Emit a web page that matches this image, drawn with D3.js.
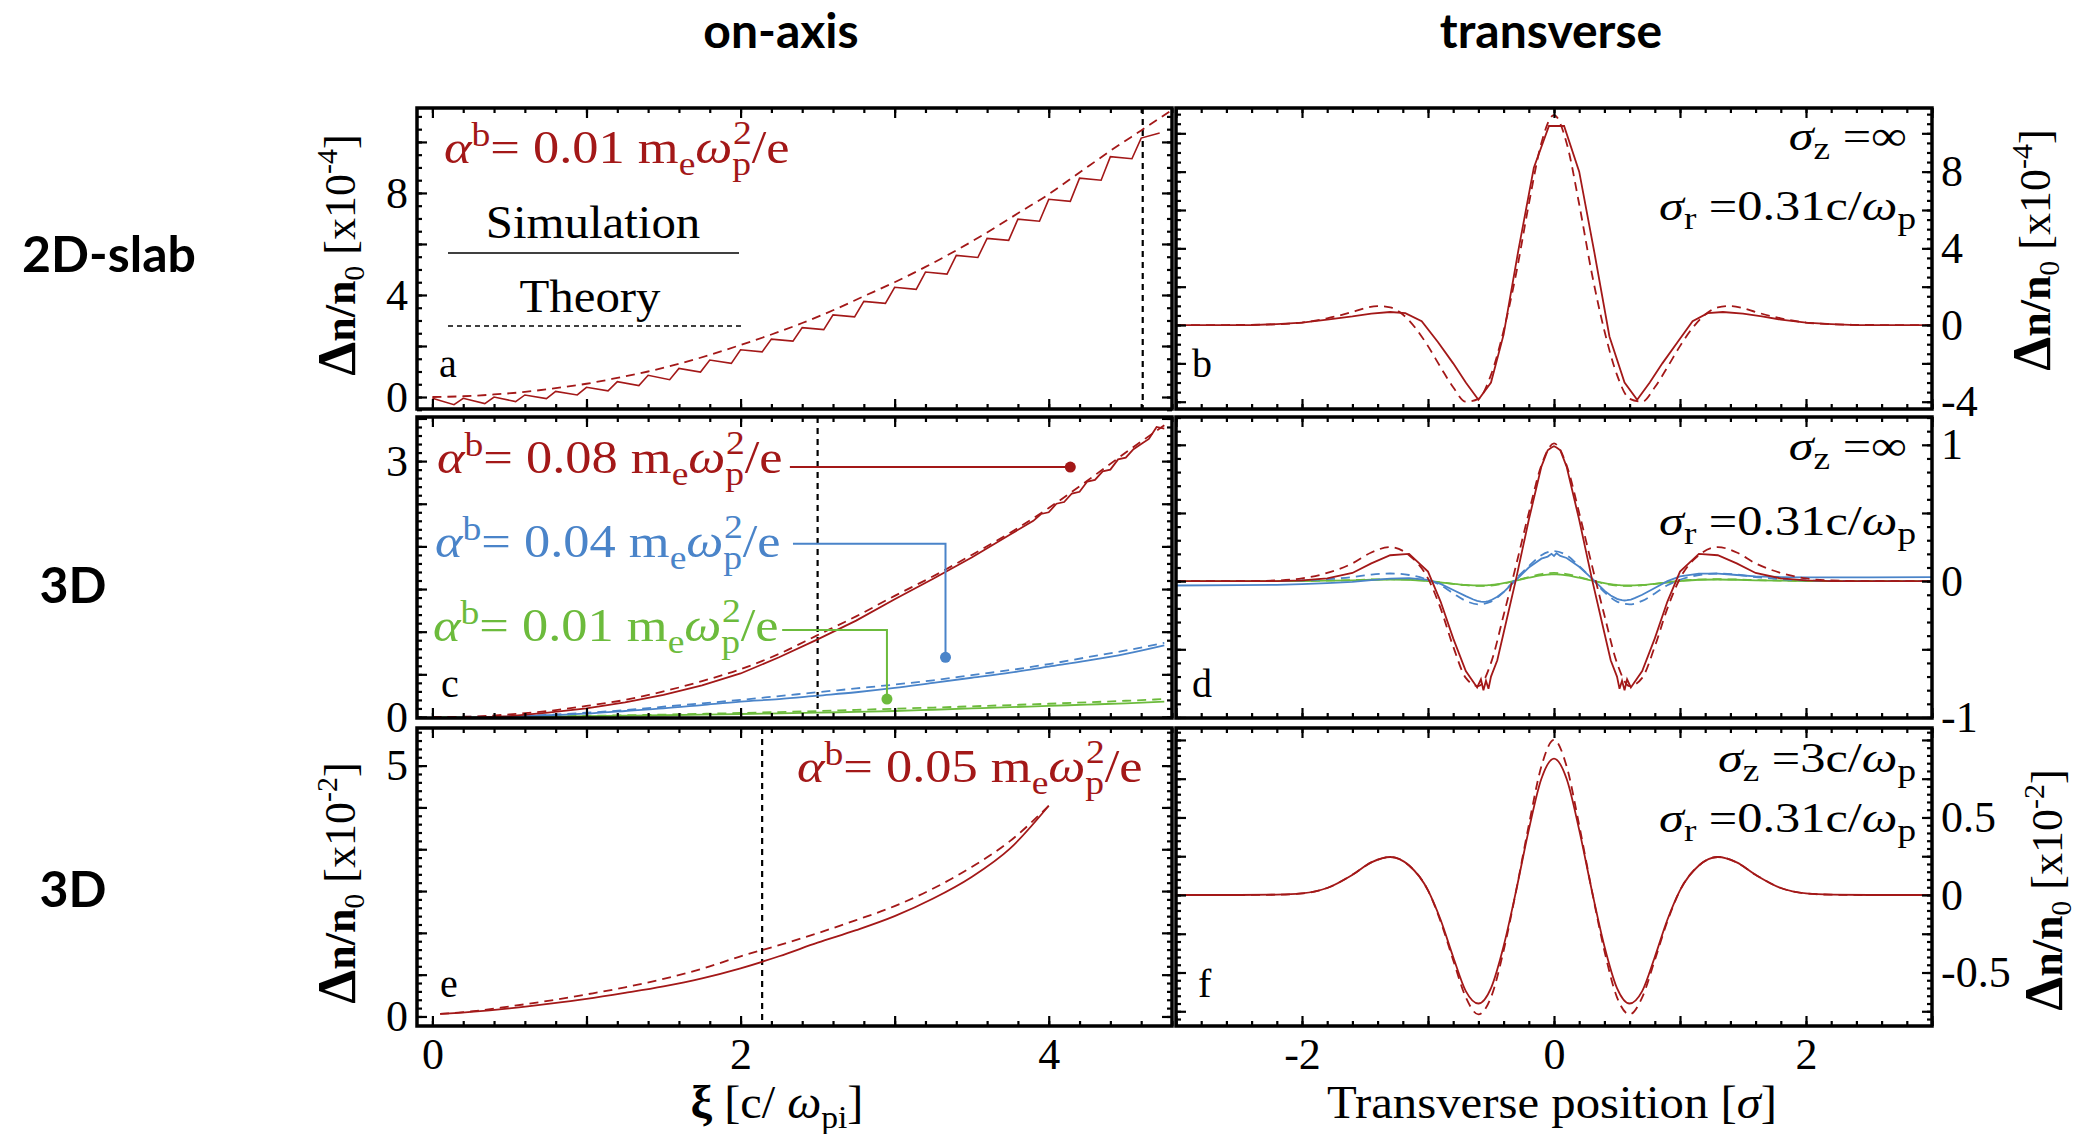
<!DOCTYPE html>
<html>
<head>
<meta charset="utf-8">
<script src="https://cdn.jsdelivr.net/npm/d3@7"></script>
<style>
  body { margin: 0; background: #fff; }
  .head { font-family: Lato, "Open Sans", sans-serif; font-weight: 700; }
</style>
</head>
<body>
<script>
// ---------- data ----------

// a : 2D slab, on-axis (simulation shows a small staircase)
var xiSimA = [0,0.14,0.2,0.34,0.4,0.54,0.6,0.74,0.8,0.94,1.0,1.14,1.2,1.34,1.4,1.54,1.6,1.74,1.8,1.94,2.0,2.14,2.2,2.34,2.4,
              2.54,2.6,2.74,2.8,2.94,3.0,3.14,3.2,3.34,3.4,3.54,3.6,3.74,3.8,3.94,4.0,4.14,4.2,4.34,4.4,4.54,4.6,4.72];
var simA = [-0.05,-0.3,-0.05,-0.26,0.0,-0.18,0.08,-0.06,0.22,0.08,0.38,0.24,0.6,0.45,0.85,0.68,1.12,0.98,1.45,1.32,
            1.85,1.77,2.27,2.19,2.72,2.64,3.22,3.14,3.75,3.67,4.3,4.22,4.9,4.82,5.55,5.47,6.22,6.14,6.97,6.89,
            7.75,7.67,8.58,8.5,9.42,9.34,10.15,10.35];
var xiTheoryA = [0,0.2,0.4,0.6,0.8,1.0,1.2,1.4,1.6,1.8,2.0,2.2,2.4,2.6,2.8,3.0,3.2,3.4,3.6,3.8,4.0,4.2,4.4,4.6,4.8];
var theoryA = [0,0.03,0.1,0.2,0.35,0.52,0.75,1.0,1.3,1.65,2.04,2.45,2.9,3.4,3.95,4.5,5.1,5.75,6.45,7.2,
               7.95,8.8,9.65,10.45,11.25];
var markerA = 4.61;

// b : 2D slab, transverse
var posSimB = [-3,-2.4,-2.2,-2.0,-1.8,-1.6,-1.45,-1.3,-1.18,-1.05,-0.92,-0.8,-0.7,-0.6,-0.5,-0.4,-0.28,-0.16,-0.04,
               0.08,0.2,0.32,0.44,0.56,0.66,0.76,0.86,0.98,1.1,1.22,1.34,1.5,1.65,1.8,2.0,2.2,2.4,3];
var simB = [0,0,0.05,0.12,0.28,0.45,0.6,0.68,0.62,0.2,-0.9,-2.0,-3.0,-3.9,-3.0,-0.5,4.0,8.2,10.38,
            10.38,8.0,3.8,-0.6,-3.0,-3.9,-3.0,-2.0,-0.9,0.2,0.62,0.68,0.6,0.45,0.28,0.12,0.05,0,0];
var posB = [-3,-2.6,-2.4,-2.2,-2.0,-1.8,-1.6,-1.5,-1.4,-1.3,-1.2,-1.1,-1.0,-0.9,-0.8,-0.7,-0.6,-0.5,-0.4,-0.3,-0.2,-0.1,
            0,0.1,0.2,0.3,0.4,0.5,0.6,0.7,0.8,0.9,1.0,1.1,1.2,1.3,1.4,1.5,1.6,1.8,2.0,2.2,2.4,2.6,3];
var theoryB = [0,0,0.01,0.04,0.13,0.35,0.68,0.88,0.99,0.92,0.55,-0.15,-1.1,-2.2,-3.25,-4.0,-3.85,-2.6,-0.3,2.7,6.3,9.5,
               10.95,
               9.5,6.3,2.7,-0.3,-2.6,-3.85,-4.0,-3.25,-2.2,-1.1,-0.15,0.55,0.92,0.99,0.88,0.68,0.35,0.13,0.04,0.01,0,0];

// c : 3D, on-axis, three beam strengths
var xiRedSimC = [0,0.25,0.5,0.75,1.0,1.25,1.5,1.75,2.0,2.25,2.5,2.75,3.0,3.25,3.5,3.75,
                 3.9,3.95,4.0,4.05,4.1,4.15,4.2,4.25,4.3,4.35,4.4,4.45,4.5,4.55,4.6,4.65,4.7,4.75];
var redSimC = [-0.02,-0.01,0.01,0.05,0.1,0.17,0.26,0.37,0.51,0.7,0.91,1.13,1.38,1.62,1.87,2.14,
               2.3,2.38,2.4,2.5,2.52,2.62,2.64,2.76,2.78,2.88,2.9,3.02,3.04,3.14,3.2,3.26,3.4,3.38];
var xiC = [0,0.25,0.5,0.75,1.0,1.25,1.5,1.75,2.0,2.25,2.5,2.75,3.0,3.25,3.5,3.75,4.0,4.25,4.5,4.75];
var redTheoryC = [0,0.005,0.03,0.07,0.13,0.2,0.3,0.42,0.56,0.74,0.96,1.18,1.42,1.65,1.9,2.16,2.45,2.77,3.1,3.42];
var blueSimC = [-0.01,-0.005,0.005,0.02,0.04,0.07,0.1,0.14,0.18,0.21,0.25,0.29,0.34,0.4,0.46,0.52,0.59,0.66,0.74,0.84];
var blueTheoryC = [0,0.003,0.01,0.025,0.05,0.08,0.12,0.16,0.2,0.245,0.29,0.335,0.38,0.43,0.49,0.55,0.62,0.7,0.78,0.87];
var greenSimC = [-0.005,-0.003,0,0.005,0.01,0.015,0.02,0.027,0.035,0.042,0.05,0.06,0.07,0.085,0.1,0.115,0.13,0.145,0.16,0.18];
var greenTheoryC = [0,0.001,0.003,0.008,0.014,0.02,0.028,0.037,0.047,0.058,0.07,0.083,0.097,0.11,0.125,0.14,0.155,0.172,0.19,0.21];
var markerC = 2.5;
var alphaC = ["0.08", "0.04", "0.01"];
var leaderYC = [2.93, 2.03, 1.02];
var leaderX0C = [2.32, 2.34, 2.27];
var leaderX1C = [4.14, 3.33, 2.95];
var dotYC = [2.93, 0.70, 0.21];

// d : 3D, transverse
var posSimD = [-3,-2.5,-2.2,-2.0,-1.8,-1.6,-1.45,-1.3,-1.15,-1.0,-0.9,-0.8,-0.7,-0.64,-0.61,-0.58,-0.56,-0.54,-0.52,-0.5,
               -0.45,-0.4,-0.3,-0.2,-0.1,-0.05,-0.02,0,0.02,0.05,0.1,0.2,0.3,0.4,0.45,0.5,0.52,0.54,0.56,0.58,0.61,0.64,
               0.7,0.8,0.9,1.0,1.15,1.3,1.45,1.6,1.8,2.0,2.2,2.5,3];
var redSimD = [0,0,0,0.005,0.02,0.06,0.13,0.19,0.2,0.07,-0.15,-0.42,-0.66,-0.74,-0.78,-0.72,-0.8,-0.73,-0.79,-0.7,
               -0.58,-0.38,0.02,0.45,0.84,0.96,0.98,0.99,0.98,0.96,0.84,0.45,0.02,-0.38,-0.58,-0.7,-0.79,-0.73,-0.8,-0.72,
               -0.78,-0.74,-0.66,-0.42,-0.15,0.07,0.2,0.19,0.13,0.06,0.02,0.005,0,0,0];
var blueSimD = [-0.032,-0.03,-0.027,-0.022,-0.015,-0.005,0.008,0.018,0.022,0.01,-0.02,-0.065,-0.11,-0.135,-0.145,-0.15,
                -0.152,-0.15,-0.146,-0.14,-0.115,-0.08,0.01,0.1,0.165,0.18,0.2,0.185,0.205,0.185,0.17,0.105,0.02,-0.07,
                -0.105,-0.13,-0.135,-0.14,-0.142,-0.14,-0.135,-0.125,-0.1,-0.05,0.0,0.035,0.055,0.055,0.045,0.035,0.03,
                0.028,0.027,0.028,0.03];
var greenSimD = [0,0,0,0.001,0.003,0.006,0.01,0.012,0.01,0.0,-0.01,-0.02,-0.028,-0.031,-0.032,-0.032,-0.032,-0.031,-0.03,
                 -0.028,-0.022,-0.014,0.005,0.025,0.042,0.048,0.05,0.05,0.05,0.048,0.042,0.025,0.005,-0.014,-0.022,-0.028,
                 -0.03,-0.031,-0.032,-0.032,-0.032,-0.031,-0.028,-0.02,-0.01,0.0,0.01,0.012,0.01,0.006,0.003,0.001,0,0,0];
var posD = [-3,-2.5,-2.2,-2.0,-1.8,-1.6,-1.45,-1.3,-1.15,-1.0,-0.9,-0.8,-0.7,-0.6,-0.5,-0.4,-0.3,-0.2,-0.1,
            0,0.1,0.2,0.3,0.4,0.5,0.6,0.7,0.8,0.9,1.0,1.15,1.3,1.45,1.6,1.8,2.0,2.2,2.5,3];
var redTheoryD = [0,0,0.005,0.02,0.06,0.13,0.21,0.25,0.19,0.02,-0.2,-0.48,-0.71,-0.77,-0.6,-0.25,0.12,0.5,0.85,
                  1.01,
                  0.85,0.5,0.12,-0.25,-0.6,-0.77,-0.71,-0.48,-0.2,0.02,0.19,0.25,0.21,0.13,0.06,0.02,0.005,0,0];
var blueTheoryD = [0,0,0.002,0.005,0.015,0.03,0.048,0.056,0.045,0.01,-0.03,-0.09,-0.145,-0.17,-0.15,-0.08,0.02,0.11,0.19,
                   0.22,
                   0.19,0.11,0.02,-0.08,-0.15,-0.17,-0.145,-0.09,-0.03,0.01,0.045,0.056,0.048,0.03,0.015,0.005,0.002,0,0];
var greenTheoryD = [0,0,0,0.002,0.004,0.008,0.012,0.014,0.011,0.002,-0.008,-0.02,-0.03,-0.035,-0.032,-0.018,0.005,0.03,0.052,
                    0.06,
                    0.052,0.03,0.005,-0.018,-0.032,-0.035,-0.03,-0.02,-0.008,0.002,0.011,0.014,0.012,0.008,0.004,0.002,0,0,0];

// e : 3D finite bunch, on-axis
var xiE = [0.05,0.25,0.5,0.75,1.0,1.25,1.5,1.75,2.0,2.25,2.5,2.75,3.0,3.25,3.5,3.75,4.0];
var simE = [0.05,0.09,0.16,0.25,0.35,0.47,0.6,0.76,0.96,1.2,1.47,1.72,2.0,2.35,2.78,3.35,4.2];
var theoryE = [0.05,0.1,0.2,0.31,0.44,0.58,0.75,0.95,1.2,1.42,1.66,1.92,2.2,2.55,2.98,3.5,4.2];
var markerE = 2.14;

// f : 3D finite bunch, transverse
var posF = [-3,-2.5,-2.2,-2.0,-1.8,-1.6,-1.45,-1.3,-1.15,-1.0,-0.9,-0.8,-0.7,-0.6,-0.5,-0.4,-0.3,-0.2,-0.1,
            0,0.1,0.2,0.3,0.4,0.5,0.6,0.7,0.8,0.9,1.0,1.15,1.3,1.45,1.6,1.8,2.0,2.2,2.5,3];
var simF = [0,0,0.002,0.01,0.045,0.13,0.21,0.245,0.19,0.03,-0.16,-0.4,-0.62,-0.7,-0.6,-0.33,0.03,0.42,0.75,
            0.88,
            0.75,0.42,0.03,-0.33,-0.6,-0.7,-0.62,-0.4,-0.16,0.03,0.19,0.245,0.21,0.13,0.045,0.01,0.002,0,0];
var theoryF = [0,0,0.002,0.01,0.045,0.13,0.21,0.245,0.19,0.03,-0.17,-0.42,-0.66,-0.77,-0.66,-0.36,0.03,0.45,0.83,
               1.0,
               0.83,0.45,0.03,-0.36,-0.66,-0.77,-0.66,-0.42,-0.17,0.03,0.19,0.245,0.21,0.13,0.045,0.01,0.002,0,0];

// tick labels
var xLabelsOn = [0, 2, 4];
var xLabelsTr = [-2, 0, 2];
var yLabelsA = [0, 4, 8];
var yLabelsB = [-4, 0, 4, 8];
var yLabelsC = [0, 3];
var yLabelsD = [-1, 0, 1];
var yLabelsE = [0, 5];
var yLabelsF = [-0.5, 0, 0.5];

// ---------- drawing ----------
var RED = "#a31818", BLUE = "#4a84c9", GREEN = "#6cbb3c";
var SERIF = '"Liberation Serif", "DejaVu Serif", serif';

var svg = d3.select("body").append("svg")
    .attr("width", 2080).attr("height", 1134)
    .style("font-family", SERIF);

function makePanel(id, left, top, w, h, xd, yd) {
  var g = svg.append("g").attr("transform", "translate(" + left + "," + top + ")");
  var x = d3.scaleLinear().domain(xd).range([0, w]);
  var y = d3.scaleLinear().domain(yd).range([h, 0]);
  g.append("clipPath").attr("id", "clip" + id)
    .append("rect").attr("width", w).attr("height", h);
  var plot = g.append("g").attr("clip-path", "url(#clip" + id + ")");
  return {g: g, plot: plot, x: x, y: y, w: w, h: h};
}

function drawTicks(p, xMaj, xMin, yMaj, yMin) {
  var sides = [
    [d3.axisBottom(p.x), 0, p.h, xMaj, xMin],
    [d3.axisTop(p.x), 0, 0, xMaj, xMin],
    [d3.axisLeft(p.y), 0, 0, yMaj, yMin],
    [d3.axisRight(p.y), p.w, 0, yMaj, yMin]
  ];
  sides.forEach(function(s) {
    [[s[4], 5], [s[3], 10]].forEach(function(t) {
      var a = p.g.append("g")
        .attr("transform", "translate(" + s[1] + "," + s[2] + ")")
        .call(s[0].tickValues(t[0]).tickSize(-t[1]).tickFormat(""));
      a.select(".domain").remove();
      a.selectAll(".tick line").attr("stroke", "#000").attr("stroke-width", 2.2);
    });
  });
}

function drawLabels(p, side, vals, pad) {
  var ax, tr;
  if (side === "left") { ax = d3.axisLeft(p.y); tr = [0, 0]; }
  else if (side === "right") { ax = d3.axisRight(p.y); tr = [p.w, 0]; }
  else { ax = d3.axisBottom(p.x); tr = [0, p.h]; }
  var a = p.g.append("g").attr("transform", "translate(" + tr + ")")
    .call(ax.tickValues(vals).tickSize(0).tickPadding(pad).tickFormat(function(d) { return String(d); }));
  a.select(".domain").remove();
  a.selectAll("text").attr("font-size", 44).attr("font-family", SERIF).attr("fill", "#000");
}

function drawFrame(p) {
  p.g.append("rect").attr("width", p.w).attr("height", p.h)
    .attr("fill", "none").attr("stroke", "#000").attr("stroke-width", 3.5);
}

function drawCurve(p, xs, ys, color, dashed, smooth, width) {
  var line = d3.line()
    .x(function(d, i) { return p.x(xs[i]); })
    .y(function(d) { return p.y(d); })
    .curve(smooth ? d3.curveMonotoneX : d3.curveLinear);
  p.plot.append("path").datum(ys)
    .attr("d", line)
    .attr("fill", "none")
    .attr("stroke", color)
    .attr("stroke-width", width || 1.8)
    .attr("stroke-dasharray", dashed ? "9,6" : null);
}

function drawMarker(p, xv) {
  p.plot.append("line")
    .attr("x1", p.x(xv)).attr("x2", p.x(xv))
    .attr("y1", 0).attr("y2", p.h)
    .attr("stroke", "#000").attr("stroke-width", 2.2)
    .attr("stroke-dasharray", "6,5");
}

// text placed at (x, y), optionally stretched sideways so Times looks as wide as the original TeX font
function richText(parent, x, y, size, parts, anchor, color, sx, rot) {
  var tf = "translate(" + x + "," + y + ")";
  if (rot) tf += " rotate(" + rot + ")";
  if (sx) tf += " scale(" + sx + ",1)";
  var t = parent.append("text")
    .attr("transform", tf)
    .attr("font-size", size)
    .attr("fill", color || "#000")
    .attr("text-anchor", anchor || "start");
  parts.forEach(function(pt) {
    var s = t.append("tspan").text(pt.t);
    if (pt.dx) s.attr("dx", pt.dx);
    if (pt.dy) s.attr("dy", pt.dy);
    if (pt.fs) s.attr("font-size", pt.fs);
    if (pt.it) s.attr("font-style", "italic");
    if (pt.b) s.attr("font-weight", "bold");
  });
  return t;
}

function alphaParts(v) {
  return [
    {t: "α", it: true},
    {t: "b", fs: 33, dy: -17},
    {t: "= " + v + " m", dy: 17},
    {t: "e", fs: 33, dy: 12},
    {t: "ω", it: true, dy: -12},
    {t: "p", fs: 33, dy: 12},
    {t: "2", fs: 33, dx: -16, dy: -31},
    {t: "/e", dy: 19}
  ];
}

function sigmaZ(rhs, omega) {
  var parts = [{t: "σ", it: true}, {t: "z", fs: 31, dy: 9}, {t: " =" + rhs, dy: -9}];
  if (omega) parts.push({t: "ω", it: true}, {t: "p", fs: 31, dy: 9});
  return parts;
}

function sigmaR() {
  return [{t: "σ", it: true}, {t: "r", fs: 31, dy: 9}, {t: " =0.31c/", dy: -9},
          {t: "ω", it: true}, {t: "p", fs: 31, dy: 9}];
}

function densityTitle(exp) {
  return [
    {t: "Δ", b: true, fs: 54},
    {t: "n/n", b: true},
    {t: "0", fs: 30, dy: 9},
    {t: " [x10", dy: -9},
    {t: exp, fs: 30, dy: -18},
    {t: "]", dy: 18}
  ];
}

// layout
var colX = [417, 1176], colW = [755, 756];
var rowY = [108, 417, 728], rowH = [301, 301, 298];
var xOn = [-0.1, 4.8], xTr = [-3, 3];
var SX_ALPHA = 1.14, SX_SIGMA = 1.2;

var pa = makePanel("a", colX[0], rowY[0], colW[0], rowH[0], xOn, [-0.47, 11.33]);
var pb = makePanel("b", colX[1], rowY[0], colW[1], rowH[0], xTr, [-4.38, 11.32]);
var pc = makePanel("c", colX[0], rowY[1], colW[0], rowH[1], xOn, [-0.012, 3.517]);
var pd = makePanel("d", colX[1], rowY[1], colW[1], rowH[1], xTr, [-1.004, 1.204]);
var pe = makePanel("e", colX[0], rowY[2], colW[0], rowH[2], xOn, [-0.19, 5.75]);
var pf = makePanel("f", colX[1], rowY[2], colW[1], rowH[2], xTr, [-0.845, 1.077]);

var xMajOn = [0, 1, 2, 3, 4], xMinOn = d3.range(0, 4.81, 0.2);
var xMajTr = [-3, -2, -1, 0, 1, 2, 3], xMinTr = d3.range(-3, 3.01, 0.2);

// --- a ---
drawMarker(pa, markerA);
drawCurve(pa, xiTheoryA, theoryA, RED, true, true);
drawCurve(pa, xiSimA, simA, RED, false, false, 1.6);
drawTicks(pa, xMajOn, xMinOn, d3.range(0, 11, 2), d3.range(-0.5, 11.3, 0.5));
drawLabels(pa, "left", yLabelsA, 9);
richText(pa.g, 27, 55, 46, alphaParts("0.01"), "start", RED, SX_ALPHA);
richText(pa.g, 176, 130, 47, [{t: "Simulation"}], "middle", "#000", 1.04);
pa.g.append("line").attr("x1", 31).attr("x2", 322).attr("y1", 145).attr("y2", 145)
  .attr("stroke", "#000").attr("stroke-width", 1.6);
richText(pa.g, 173, 204, 47, [{t: "Theory"}], "middle", "#000", 1.04);
pa.g.append("line").attr("x1", 31).attr("x2", 325).attr("y1", 218).attr("y2", 218)
  .attr("stroke", "#000").attr("stroke-width", 1.6).attr("stroke-dasharray", "5,4");
richText(pa.g, 22, 269, 40, [{t: "a"}]);
drawFrame(pa);

// --- b ---
drawCurve(pb, posB, theoryB, RED, true, true);
drawCurve(pb, posSimB, simB, RED, false, false);
drawTicks(pb, xMajTr, xMinTr, d3.range(-4, 11, 2), d3.range(-4, 11.3, 0.5));
drawLabels(pb, "right", yLabelsB, 9);
richText(pb.g, 731, 42, 42, sigmaZ("∞", false), "end", "#000", SX_SIGMA);
richText(pb.g, 740, 112, 42, sigmaR(), "end", "#000", SX_SIGMA);
richText(pb.g, 16, 269, 40, [{t: "b"}]);
drawFrame(pb);

// --- c ---
drawMarker(pc, markerC);
drawCurve(pc, xiC, greenTheoryC, GREEN, true, true);
drawCurve(pc, xiC, greenSimC, GREEN, false, true);
drawCurve(pc, xiC, blueTheoryC, BLUE, true, true);
drawCurve(pc, xiC, blueSimC, BLUE, false, true);
drawCurve(pc, xiC, redTheoryC, RED, true, true);
drawCurve(pc, xiRedSimC, redSimC, RED, false, false);
var colorsC = [RED, BLUE, GREEN];
alphaC.forEach(function(v, i) {
  richText(pc.g, 20 - i * 2, 56 + i * 84, 46, alphaParts(v), "start", colorsC[i], SX_ALPHA);
  var pts = [[leaderX0C[i], leaderYC[i]], [leaderX1C[i], leaderYC[i]], [leaderX1C[i], dotYC[i]]];
  pc.plot.append("path")
    .datum(pts)
    .attr("d", d3.line().x(function(d) { return pc.x(d[0]); }).y(function(d) { return pc.y(d[1]); }))
    .attr("fill", "none").attr("stroke", colorsC[i]).attr("stroke-width", 2);
  pc.plot.append("circle")
    .attr("cx", pc.x(leaderX1C[i])).attr("cy", pc.y(dotYC[i])).attr("r", 5.5)
    .attr("fill", colorsC[i]);
});
drawTicks(pc, xMajOn, xMinOn, d3.range(0, 3.51, 0.5), d3.range(0, 3.51, 0.1));
drawLabels(pc, "left", yLabelsC, 9);
richText(pc.g, 24, 280, 40, [{t: "c"}]);
drawFrame(pc);

// --- d ---
drawCurve(pd, posD, greenTheoryD, GREEN, true, true);
drawCurve(pd, posSimD, greenSimD, GREEN, false, true);
drawCurve(pd, posD, blueTheoryD, BLUE, true, true);
drawCurve(pd, posSimD, blueSimD, BLUE, false, false);
drawCurve(pd, posD, redTheoryD, RED, true, true);
drawCurve(pd, posSimD, redSimD, RED, false, false);
drawTicks(pd, xMajTr, xMinTr, [-1, -0.5, 0, 0.5, 1], d3.range(-1, 1.21, 0.1));
drawLabels(pd, "right", yLabelsD, 9);
richText(pd.g, 731, 43, 42, sigmaZ("∞", false), "end", "#000", SX_SIGMA);
richText(pd.g, 740, 118, 42, sigmaR(), "end", "#000", SX_SIGMA);
richText(pd.g, 16, 280, 40, [{t: "d"}]);
drawFrame(pd);

// --- e ---
drawMarker(pe, markerE);
drawCurve(pe, xiE, theoryE, RED, true, true);
drawCurve(pe, xiE, simE, RED, false, true);
drawTicks(pe, xMajOn, xMinOn, d3.range(0, 5.75, 5 / 6), d3.range(0, 5.75, 1 / 6));
drawLabels(pe, "left", yLabelsE, 9);
drawLabels(pe, "bottom", xLabelsOn, 12);
richText(pe.g, 380, 54, 46, alphaParts("0.05"), "start", RED, SX_ALPHA);
richText(pe.g, 23, 269, 40, [{t: "e"}]);
drawFrame(pe);

// --- f ---
drawCurve(pf, posF, theoryF, RED, true, true);
drawCurve(pf, posF, simF, RED, false, true);
drawTicks(pf, xMajTr, xMinTr, d3.range(-0.75, 1.07, 0.25), d3.range(-0.8, 1.07, 0.05));
drawLabels(pf, "right", yLabelsF, 9);
drawLabels(pf, "bottom", xLabelsTr, 12);
richText(pf.g, 740, 44, 42, sigmaZ("3c/", true), "end", "#000", SX_SIGMA);
richText(pf.g, 740, 104, 42, sigmaR(), "end", "#000", SX_SIGMA);
richText(pf.g, 22, 269, 40, [{t: "f"}]);
drawFrame(pf);

// axis titles
richText(svg, 355, 255, 44, densityTitle("-4"), "middle", "#000", 0, -90);
richText(svg, 355, 883, 44, densityTitle("-2"), "middle", "#000", 0, -90);
richText(svg, 2050, 250, 44, densityTitle("-4"), "middle", "#000", 0, -90);
richText(svg, 2062, 890, 44, densityTitle("-2"), "middle", "#000", 0, -90);

richText(svg, 777, 1118, 46, [
  {t: "ξ", b: true}, {t: " [c/ "}, {t: "ω", it: true}, {t: "pi", fs: 32, dy: 10}, {t: "]", dy: -10}
], "middle", "#000", 1.05);
richText(svg, 1552, 1118, 46, [{t: "Transverse position ["}, {t: "σ", it: true}, {t: "]"}], "middle", "#000", 1.06);

// column and row headings
svg.append("text").attr("class", "head").attr("x", 781).attr("y", 48)
  .attr("font-size", 48).attr("text-anchor", "middle").text("on-axis");
svg.append("text").attr("class", "head").attr("x", 1551).attr("y", 48)
  .attr("font-size", 48).attr("text-anchor", "middle").text("transverse");
svg.append("text").attr("class", "head").attr("x", 109).attr("y", 272)
  .attr("font-size", 50).attr("text-anchor", "middle").text("2D-slab");
svg.append("text").attr("class", "head").attr("x", 73).attr("y", 603)
  .attr("font-size", 50).attr("text-anchor", "middle").text("3D");
svg.append("text").attr("class", "head").attr("x", 73).attr("y", 907)
  .attr("font-size", 50).attr("text-anchor", "middle").text("3D");
</script>
</body>
</html>
